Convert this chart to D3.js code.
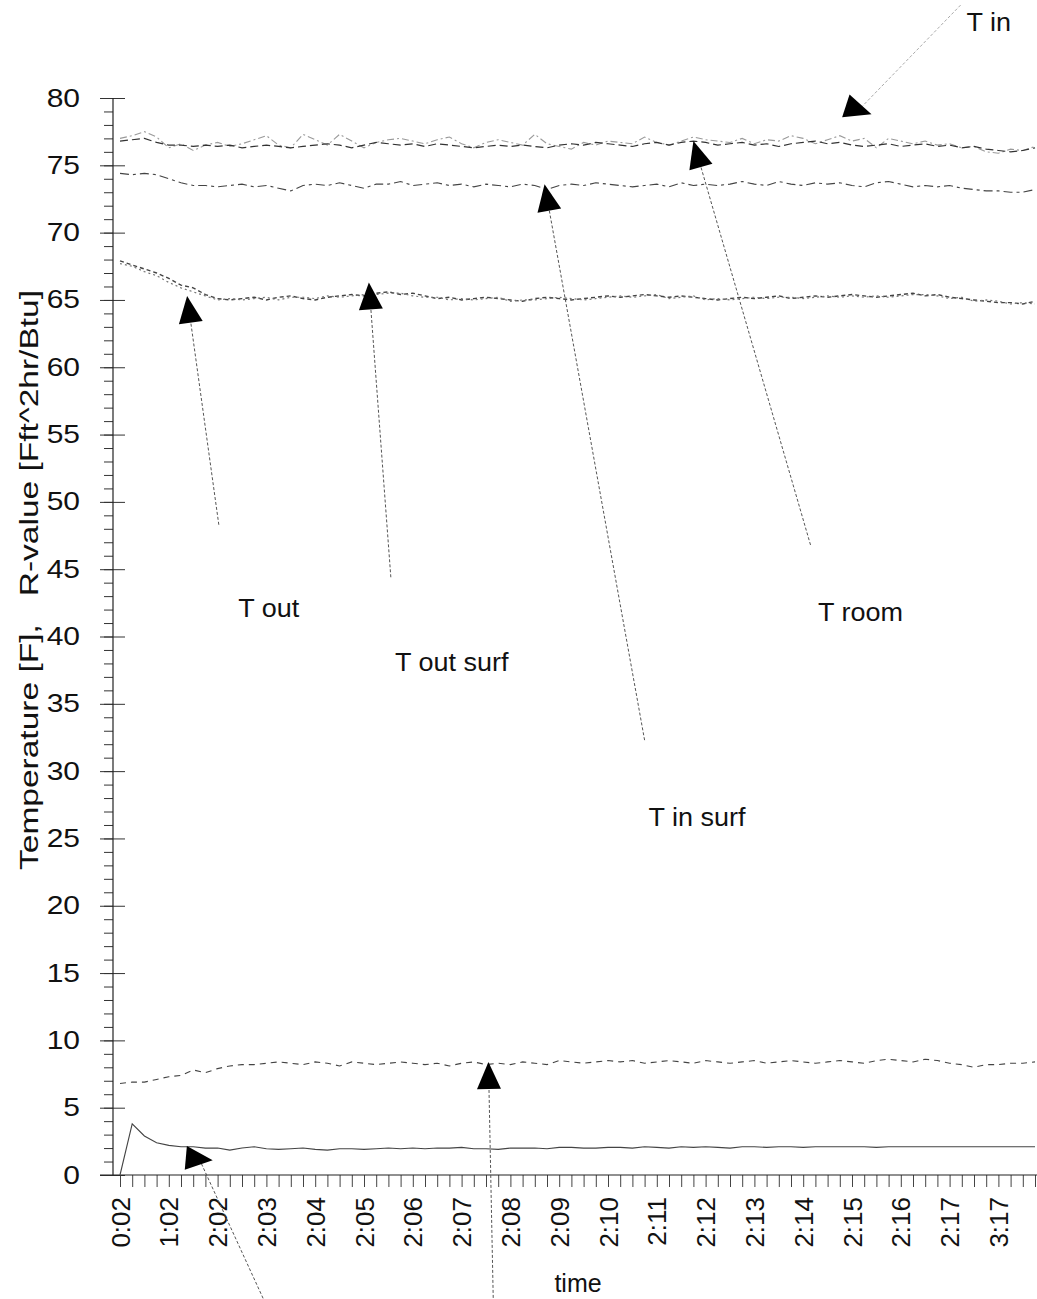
<!DOCTYPE html>
<html>
<head>
<meta charset="utf-8">
<script src="https://cdn.jsdelivr.net/npm/d3@7"></script>
<style>
  html, body { margin: 0; padding: 0; background: #fff; }
  svg { display: block; }
  text { font-family: "Liberation Sans", Arial, sans-serif; fill: #111; }
</style>
</head>
<body>
<svg id="chart" width="1037" height="1299"></svg>
<script>
// Time stamps shown under every fourth sample
const timeLabels = ["0:02","1:02","2:02","2:03","2:04","2:05","2:06","2:07","2:08",
  "2:09","2:10","2:11","2:12","2:13","2:14","2:15","2:16","2:17","3:17"];

const yTicks = [0,5,10,15,20,25,30,35,40,45,50,55,60,65,70,75,80];

// Temperatures [F]
const tIn = [
  77.0, 77.2, 77.5, 77.1, 76.3, 76.6, 76.1, 76.5, 76.7, 76.4,
  76.6, 76.9, 77.2, 76.5, 76.3, 77.3, 76.9, 76.5, 77.3, 76.8,
  76.3, 76.7, 76.9, 77.0, 76.8, 76.6, 76.9, 77.1, 76.6, 76.3,
  76.7, 76.9, 76.7, 76.5, 77.3, 76.6, 76.4, 76.2, 76.7, 76.5,
  76.8, 76.7, 76.6, 77.1, 76.7, 76.5, 76.8, 77.1, 76.9, 76.8,
  76.7, 77.0, 76.6, 76.9, 76.8, 77.2, 77.0, 76.6, 76.9, 77.2,
  76.8, 77.0, 76.3, 77.0, 76.8, 76.6, 76.8, 76.5, 76.6, 76.3,
  76.4, 76.0, 75.9, 76.2, 76.1, 76.4];

const tRoom = [
  76.8, 76.9, 77.0, 76.7, 76.5, 76.5, 76.4, 76.5, 76.4, 76.5,
  76.3, 76.4, 76.5, 76.4, 76.3, 76.4, 76.5, 76.6, 76.5, 76.3,
  76.5, 76.7, 76.6, 76.5, 76.6, 76.4, 76.6, 76.5, 76.4, 76.3,
  76.4, 76.5, 76.4, 76.5, 76.4, 76.3, 76.5, 76.6, 76.5, 76.7,
  76.6, 76.5, 76.4, 76.6, 76.7, 76.5, 76.7, 76.8, 76.7, 76.5,
  76.6, 76.7, 76.5, 76.6, 76.4, 76.6, 76.7, 76.8, 76.6, 76.7,
  76.5, 76.4, 76.5, 76.6, 76.4, 76.5, 76.6, 76.4, 76.5, 76.3,
  76.4, 76.2, 76.1, 76.0, 76.1, 76.3];

const tInSurf = [
  74.4, 74.3, 74.4, 74.3, 74.0, 73.7, 73.5, 73.5, 73.4, 73.5,
  73.6, 73.4, 73.5, 73.3, 73.1, 73.5, 73.6, 73.5, 73.7, 73.5,
  73.3, 73.6, 73.6, 73.8, 73.5, 73.6, 73.7, 73.5, 73.6, 73.4,
  73.6, 73.5, 73.4, 73.6, 73.5, 73.2, 73.5, 73.6, 73.5, 73.7,
  73.6, 73.5, 73.4, 73.5, 73.6, 73.4, 73.7, 73.5, 73.6, 73.5,
  73.6, 73.8, 73.6, 73.5, 73.8, 73.6, 73.5, 73.7, 73.6, 73.7,
  73.5, 73.4, 73.7, 73.8, 73.6, 73.4, 73.5, 73.4, 73.5, 73.3,
  73.2, 73.1, 73.1, 73.0, 73.0, 73.2];

const tOut = [
  67.9, 67.6, 67.3, 67.0, 66.6, 66.1, 65.9, 65.4, 65.1, 65.0,
  65.1, 65.2, 65.0, 65.2, 65.3, 65.1, 65.0, 65.2, 65.3, 65.4,
  65.3, 65.5, 65.6, 65.4, 65.5, 65.3, 65.1, 65.2, 65.0, 65.1,
  65.2, 65.1, 65.0, 64.9, 65.1, 65.2, 65.1, 65.0, 65.1, 65.2,
  65.3, 65.2, 65.3, 65.4, 65.3, 65.2, 65.3, 65.2, 65.1, 65.0,
  65.1, 65.2, 65.1, 65.2, 65.3, 65.1, 65.2, 65.3, 65.2, 65.3,
  65.4, 65.3, 65.2, 65.3, 65.4, 65.5, 65.3, 65.4, 65.2, 65.1,
  65.0, 64.9, 64.8, 64.8, 64.7, 64.9];

const tOutSurf = [
  67.7, 67.5, 67.1, 66.8, 66.3, 65.9, 65.6, 65.3, 65.0, 65.1,
  65.0, 65.1, 65.2, 65.0, 65.2, 65.2, 65.1, 65.3, 65.2, 65.3,
  65.4, 65.4, 65.5, 65.5, 65.3, 65.2, 65.2, 65.0, 65.1, 65.0,
  65.1, 65.2, 64.9, 65.0, 65.0, 65.1, 65.2, 65.1, 65.0, 65.1,
  65.2, 65.3, 65.2, 65.3, 65.4, 65.1, 65.2, 65.3, 65.0, 65.1,
  65.0, 65.1, 65.2, 65.1, 65.2, 65.2, 65.1, 65.2, 65.3, 65.2,
  65.3, 65.2, 65.3, 65.2, 65.3, 65.4, 65.4, 65.3, 65.1, 65.2,
  64.9, 65.0, 64.9, 64.7, 64.8, 64.7];

// R-values [Fft^2hr/Btu]
const rUpper = [
  6.8, 6.9, 6.9, 7.1, 7.3, 7.4, 7.8, 7.6, 7.9, 8.1,
  8.2, 8.2, 8.3, 8.4, 8.3, 8.2, 8.4, 8.3, 8.1, 8.4,
  8.3, 8.2, 8.3, 8.4, 8.3, 8.2, 8.3, 8.1, 8.3, 8.4,
  8.2, 8.3, 8.2, 8.4, 8.3, 8.2, 8.5, 8.4, 8.3, 8.4,
  8.5, 8.4, 8.5, 8.3, 8.4, 8.5, 8.4, 8.3, 8.5, 8.4,
  8.3, 8.4, 8.5, 8.3, 8.4, 8.5, 8.4, 8.3, 8.4, 8.5,
  8.4, 8.3, 8.5, 8.6, 8.5, 8.4, 8.6, 8.5, 8.3, 8.2,
  8.0, 8.2, 8.2, 8.3, 8.3, 8.4];

const rLower = [
  0.0, 3.8, 2.9, 2.4, 2.2, 2.1, 2.1, 2.0, 2.0, 1.85,
  2.0, 2.1, 1.95, 1.9, 1.95, 2.0, 1.9, 1.85, 1.95, 1.95,
  1.9, 1.95, 2.0, 1.95, 2.0, 1.95, 2.0, 2.0, 2.05, 1.95,
  1.95, 1.9, 2.0, 2.0, 2.0, 1.95, 2.05, 2.05, 2.0, 2.0,
  2.05, 2.05, 2.0, 2.1, 2.05, 2.0, 2.1, 2.05, 2.1, 2.05,
  2.0, 2.1, 2.1, 2.05, 2.1, 2.1, 2.05, 2.1, 2.1, 2.1,
  2.1, 2.1, 2.05, 2.1, 2.1, 2.1, 2.1, 2.1, 2.1, 2.1,
  2.1, 2.1, 2.1, 2.1, 2.1, 2.1];

// Callouts: arrow tip, arrow tail and label position in (sample, value) space.
// An explicit angle turns the head independently of the leader line.
const callouts = [
  { label: "T out",      tip: [5.5, 65.3],  tail: [8.1, 48.3],  at: [12.2, 42.1] },
  { label: "T out surf", tip: [20.4, 66.3], tail: [22.2, 44.4], at: [27.2, 38.1] },
  { label: "T in surf",  tip: [34.8, 73.6], tail: [43.0, 32.3], at: [47.3, 26.6] },
  { label: "T room",     tip: [47.0, 76.8], tail: [56.6, 46.8], at: [60.7, 41.8] },
  { label: "T in",       tip: [61.6, 78.8], tail: [68.9, 86.9], at: [71.2, 85.6], angle: 18, faint: true },
  { label: "",           tip: [30.2, 8.4],  tail: [30.6, -9.5], at: null },
  { label: "",           tip: [7.6, 1.1],   tail: [11.9, -9.5], at: null, angle: 5 }
];

const svg = d3.select("#chart");
const n = tIn.length;

const x = d3.scaleLinear().domain([0, n - 1]).range([120, 1035]);
const y = d3.scaleLinear().domain([0, 80]).range([1175, 98]);

// ---- axes ----
const yAxisX = 113;

// minor y ticks (every 1)
svg.append("g")
  .attr("transform", `translate(${yAxisX},0)`)
  .call(d3.axisLeft(y).tickValues(d3.range(0, 81)).tickSize(9).tickFormat(""))
  .call(g => g.select(".domain").remove())
  .call(g => g.selectAll("line").attr("stroke", "#333").attr("stroke-width", 1));

// major y ticks (every 5), crossing the axis line
const yAx = svg.append("g")
  .attr("transform", `translate(${yAxisX},0)`)
  .call(d3.axisLeft(y).tickValues(yTicks).tickSize(13))
  .call(g => g.select(".domain").remove());
yAx.selectAll(".tick line").attr("x2", 12).attr("x1", -13).attr("stroke", "#333");
yAx.selectAll(".tick text")
  .attr("font-size", 25)
  .attr("font-family", "Liberation Sans, Arial, sans-serif")
  .attr("fill", "#111")
  .attr("text-anchor", "end")
  .attr("x", 0)
  .attr("transform", "translate(-33,0) scale(1.2,1)");

svg.append("line")
  .attr("x1", yAxisX).attr("x2", yAxisX)
  .attr("y1", y(80)).attr("y2", y(0))
  .attr("stroke", "#222").attr("stroke-width", 1.2);

// x axis: a tick for every sample, a time label every fourth sample
const xAx = svg.append("g")
  .attr("transform", `translate(0,${y(0)})`)
  .call(d3.axisBottom(x).tickValues(d3.range(n)).tickSize(12)
    .tickFormat(i => i % 4 === 0 ? timeLabels[i / 4] : ""))
  .call(g => g.select(".domain").remove());
xAx.selectAll(".tick line").attr("stroke", "#444");
xAx.selectAll(".tick text")
  .attr("font-size", 26)
  .attr("font-family", "Liberation Sans, Arial, sans-serif")
  .attr("fill", "#111")
  .attr("text-anchor", "end")
  .attr("dy", "0.35em")
  .attr("transform", "translate(0,22) rotate(-90)")
  .attr("x", 0).attr("y", 0);

svg.append("line")
  .attr("x1", 100).attr("x2", 1037)
  .attr("y1", y(0)).attr("y2", y(0))
  .attr("stroke", "#222").attr("stroke-width", 1.2);

// axis titles
svg.append("text")
  .attr("transform", "translate(29,580) rotate(-90)")
  .attr("text-anchor", "middle")
  .attr("dominant-baseline", "central")
  .attr("font-size", 26)
  .style("white-space", "pre")
  .attr("textLength", 580)
  .attr("lengthAdjust", "spacingAndGlyphs")
  .text("Temperature [F],   R-value [Fft^2hr/Btu]");

svg.append("text")
  .attr("x", 578).attr("y", 1292)
  .attr("text-anchor", "middle")
  .attr("font-size", 25)
  .text("time");

// ---- series ----
const series = [
  { name: "T in",       values: tIn,      color: "#9a9a9a", dash: "7,3,2,3", width: 1.1 },
  { name: "T room",     values: tRoom,    color: "#333",    dash: "8,4",     width: 1.2 },
  { name: "T in surf",  values: tInSurf,  color: "#444",    dash: "9,4,3,4", width: 1.1 },
  { name: "T out",      values: tOut,     color: "#444",    dash: "4,3",     width: 1.4 },
  { name: "T out surf", values: tOutSurf, color: "#777",    dash: "2,3",     width: 1.2 },
  { name: "R upper",    values: rUpper,   color: "#444",    dash: "6,5",     width: 1.1 },
  { name: "R lower",    values: rLower,   color: "#444",    dash: null,      width: 1.1 }
];

const line = d3.line().x((d, i) => x(i)).y(d => y(d));

svg.append("g").selectAll("path")
  .data(series)
  .join("path")
  .attr("d", s => line(s.values))
  .attr("fill", "none")
  .attr("stroke", s => s.color)
  .attr("stroke-width", s => s.width)
  .attr("stroke-dasharray", s => s.dash);

// ---- callouts ----
const cg = svg.append("g");
const headLen = 27, headHalf = 12;
callouts.forEach(c => {
  const tx = x(c.tip[0]), ty = y(c.tip[1]);
  const sx = x(c.tail[0]), sy = y(c.tail[1]);
  const free = c.angle !== undefined;
  const ang = free ? c.angle : Math.atan2(ty - sy, tx - sx) * 180 / Math.PI;
  const rad = ang * Math.PI / 180;
  const bx = tx - headLen * Math.cos(rad), by = ty - headLen * Math.sin(rad);
  cg.append("line")
    .attr("x1", sx).attr("y1", sy)
    .attr("x2", free ? (bx + tx) / 2 : bx).attr("y2", free ? (by + ty) / 2 : by)
    .attr("stroke", c.faint ? "#aaa" : "#555")
    .attr("stroke-width", 1)
    .attr("stroke-dasharray", "3,2");
  cg.append("path")
    .attr("d", `M${headLen},0 L0,${-headHalf} L0,${headHalf} Z`)
    .attr("transform", `translate(${bx},${by}) rotate(${ang})`)
    .attr("fill", "#000");
  if (c.at) {
    cg.append("text")
      .attr("text-anchor", "middle")
      .attr("dominant-baseline", "central")
      .attr("font-size", 25)
      .attr("transform", `translate(${x(c.at[0])},${y(c.at[1])}) scale(1.08,1)`)
      .text(c.label);
  }
});
</script>
</body>
</html>
